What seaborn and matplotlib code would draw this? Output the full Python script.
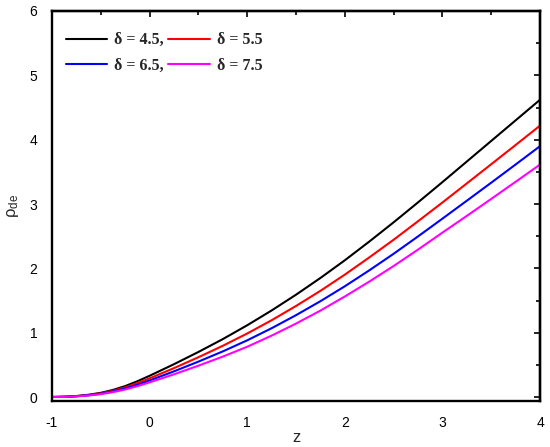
import numpy as np
import pandas as pd
import matplotlib
matplotlib.use("Agg")
import matplotlib.pyplot as plt
import seaborn as sns
from matplotlib.ticker import MultipleLocator

z = [-1, -0.875, -0.75, -0.625, -0.5, -0.375, -0.25, -0.125, 0, 0.25, 0.5, 0.75,
     1, 1.25, 1.5, 1.75, 2, 2.25, 2.5, 2.75, 3, 3.25, 3.5, 3.75, 4]
rho_45 = [0, 0.004, 0.015, 0.035, 0.065, 0.11, 0.17, 0.245, 0.33, 0.51, 0.70, 0.90,
          1.115, 1.345, 1.59, 1.85, 2.125, 2.415, 2.715, 3.025, 3.34, 3.66, 3.98,
          4.30, 4.62]
rho_55 = [0, 0.0035, 0.013, 0.031, 0.057, 0.097, 0.15, 0.216, 0.29, 0.449, 0.618,
          0.796, 0.987, 1.193, 1.415, 1.650, 1.902, 2.169, 2.444, 2.732, 3.023,
          3.32, 3.618, 3.917, 4.218]
rho_65 = [0, 0.003, 0.012, 0.027, 0.051, 0.086, 0.133, 0.191, 0.257, 0.399, 0.55,
          0.709, 0.881, 1.069, 1.272, 1.489, 1.721, 1.968, 2.226, 2.496, 2.772,
          3.051, 3.331, 3.614, 3.899]
rho_75 = [0, 0.0028, 0.010, 0.024, 0.045, 0.076, 0.117, 0.169, 0.228, 0.353, 0.487,
          0.628, 0.781, 0.954, 1.141, 1.343, 1.562, 1.793, 2.036, 2.291, 2.555,
          2.815, 3.079, 3.345, 3.613]
labels = ["δ = 4.5,", "δ = 5.5", "δ = 6.5,", "δ = 7.5"]
colors = ["#000000", "#ff0000", "#0000ff", "#ff00ff"]
xticks = [-1, 0, 1, 2, 3, 4]
xticklabels = ["-1", "0", "1", "2", "3", "4"]

series = [rho_45, rho_55, rho_65, rho_75]
df = pd.concat([pd.DataFrame({"z": z, "rho": s, "delta": lab})
                for s, lab in zip(series, labels)], ignore_index=True)

sns.set_style("white")
plt.rcParams["font.family"] = ["Liberation Sans", "DejaVu Sans"]
plt.rcParams["mathtext.default"] = "regular"

fig = plt.figure(figsize=(5.5, 4.47), dpi=100)
ax = fig.add_axes([52/550, 1 - 401/447, 488/550, 390/447])
sns.lineplot(data=df, x="z", y="rho", hue="delta", palette=dict(zip(labels, colors)),
             hue_order=labels, linewidth=1.5, ax=ax, legend=False)

ax.set_xlim(-1, 4)
ax.set_ylim(-0.062, 6)
ax.set_xticks(xticks)
ax.set_xticklabels(xticklabels)
ax.xaxis.set_minor_locator(MultipleLocator(0.5))
ax.yaxis.set_major_locator(MultipleLocator(1))
ax.yaxis.set_minor_locator(MultipleLocator(0.5))
for sp in ax.spines.values():
    sp.set_linewidth(1.7)
    sp.set_color("black")
ax.tick_params(which="both", direction="out", width=1.4, colors="black",
               labelsize=10, top=False, right=False, pad=6)
ax.tick_params(which="major", length=4.5)
ax.tick_params(which="minor", length=3)
# inward ticks on top and right
ax2 = ax.secondary_xaxis("top")
ax2.xaxis.set_major_locator(MultipleLocator(1))
ax2.xaxis.set_minor_locator(MultipleLocator(0.5))
ax2.tick_params(which="both", direction="in", width=1.4, labeltop=False)
ax2.tick_params(which="major", length=4.5)
ax2.tick_params(which="minor", length=3)
ax2.spines["top"].set_linewidth(1.7)
ay2 = ax.secondary_yaxis("right")
ay2.yaxis.set_major_locator(MultipleLocator(1))
ay2.yaxis.set_minor_locator(MultipleLocator(0.5))
ay2.tick_params(which="both", direction="in", width=1.4, labelright=False)
ay2.tick_params(which="major", length=4.5)
ay2.tick_params(which="minor", length=3)
ay2.spines["right"].set_linewidth(1.7)

ax.set_xlabel("z", fontsize=12, labelpad=0)
ax.set_ylabel(r"$\rho_{de}$", fontsize=12, labelpad=6)

lines = ax.get_lines()
order = [0, 2, 1, 3]
leg = ax.legend([lines[i] for i in order], [labels[i] for i in order], ncol=2,
                loc="upper left", bbox_to_anchor=(0.015, 0.962), borderaxespad=0,
                frameon=False, handlelength=2.6, handletextpad=0.45,
                columnspacing=0.25, labelspacing=0.6,
                prop={"family": "Liberation Serif", "size": 11.5, "weight": "bold"})

fig.savefig("out.png", dpi=100)
